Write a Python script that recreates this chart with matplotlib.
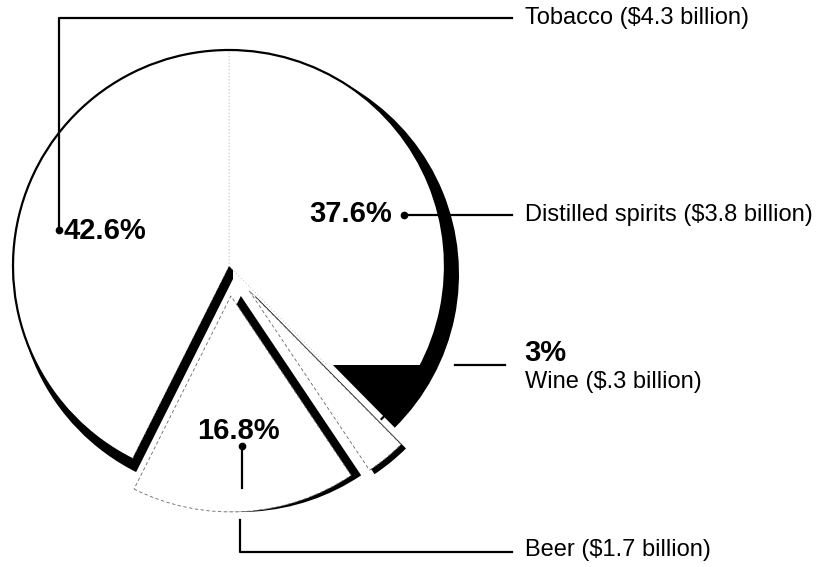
import matplotlib
matplotlib.use("Agg")
import matplotlib.pyplot as plt
from matplotlib.patches import Arc, Rectangle

# data (clockwise from top)
names = ["Distilled spirits", "Wine", "Beer", "Tobacco"]
shares = [37.6, 3.0, 16.8, 42.6]
pct_labels = ["37.6%", "3%", "16.8%", "42.6%"]
money = ["$3.8 billion", "$.3 billion", "$1.7 billion", "$4.3 billion"]

plt.rcParams["font.family"] = ["Liberation Sans", "DejaVu Sans"]

fig = plt.figure(figsize=(8.16, 5.67), dpi=100)
ax = fig.add_axes([0, 0, 1, 1])

H = 567
cx, cy, R = 229, H - 266, 216
explode = [0, 32, 30, 0]  # pixels
# depth offset of each slice's dark side (x right, y up)
shadow_off = [(14, -8), (5, -4), (10, 0), (4, -13)]

# black "depth" pie
shadows, _ = ax.pie(shares, explode=explode, startangle=90, counterclock=False,
                    colors=["black"] * 4, center=(cx, cy), radius=R,
                    wedgeprops=dict(linewidth=0, zorder=1), frame=True)
for s, (dx, dy) in zip(shadows, shadow_off):
    x0, y0 = s.center
    s.set_center((x0 + dx, y0 + dy))

# white faces on top
wedges, _ = ax.pie(shares, explode=explode, startangle=90, counterclock=False,
                   colors=["white"] * 4, center=(cx, cy), radius=R,
                   wedgeprops=dict(edgecolor="#aaaaaa", linewidth=0.6,
                                   linestyle=(0, (1, 3)), zorder=2),
                   frame=True)
for w in wedges[1:3]:
    w.set_edgecolor("#666666")
    w.set_linestyle((0, (4, 3)))

# the spirits face is cut off low down, letting the dark side show
cut = Rectangle((0, H - 365), 816, 365, transform=ax.transData)
wedges[0].set_clip_on(True)
wedges[0].set_clip_path(cut)

# solid outer rims for the two big slices
for w in (wedges[0], wedges[3]):
    ax.add_patch(Arc(w.center, 2 * w.r, 2 * w.r, theta1=w.theta1, theta2=w.theta2,
                     color="black", lw=1.6, zorder=3))

ax.set_xlim(0, 816)
ax.set_ylim(0, H)
ax.set_aspect("equal")
ax.axis("off")

lbl = dict(fontsize=17, va="center", ha="left", zorder=5)
pct = dict(fontsize=21, fontweight="bold", va="center", zorder=5)
lw = 1.6

# Tobacco
ax.plot([59, 59, 512], [H - 230, H - 18, H - 18], color="black", lw=lw, zorder=4)
ax.plot(59, H - 230, "o", color="black", ms=4.5, zorder=4)
ax.text(63, H - 231, pct_labels[3], ha="left", **pct)
ax.text(525, H - 18, f"{names[3]} ({money[3]})", **lbl)

# Distilled spirits
ax.plot([404, 512], [H - 215, H - 215], color="black", lw=lw, zorder=4)
ax.plot(404, H - 215, "o", color="black", ms=4.5, zorder=4)
ax.text(392, H - 214, pct_labels[0], ha="right", **pct)
ax.text(525, H - 215, f"{names[0]} ({money[0]})", **lbl)

# Wine
ax.plot([455, 505], [H - 365, H - 365], color="black", lw=lw, zorder=4)
ax.text(524, H - 353, pct_labels[1], ha="left", **pct)
ax.text(525, H - 382, f"{names[1]} ({money[1]})", **lbl)

# Beer
ax.plot([242, 242], [H - 446, H - 488], color="black", lw=lw, zorder=4)
ax.plot(242, H - 446, "o", color="black", ms=4.5, zorder=4)
ax.text(238, H - 431, pct_labels[2], ha="center", **pct)
ax.plot([240, 240, 512], [H - 520, H - 552, H - 552], color="black", lw=lw, zorder=4)
ax.text(525, H - 550, f"{names[2]} ({money[2]})", **lbl)

fig.savefig("out.png", dpi=100)
